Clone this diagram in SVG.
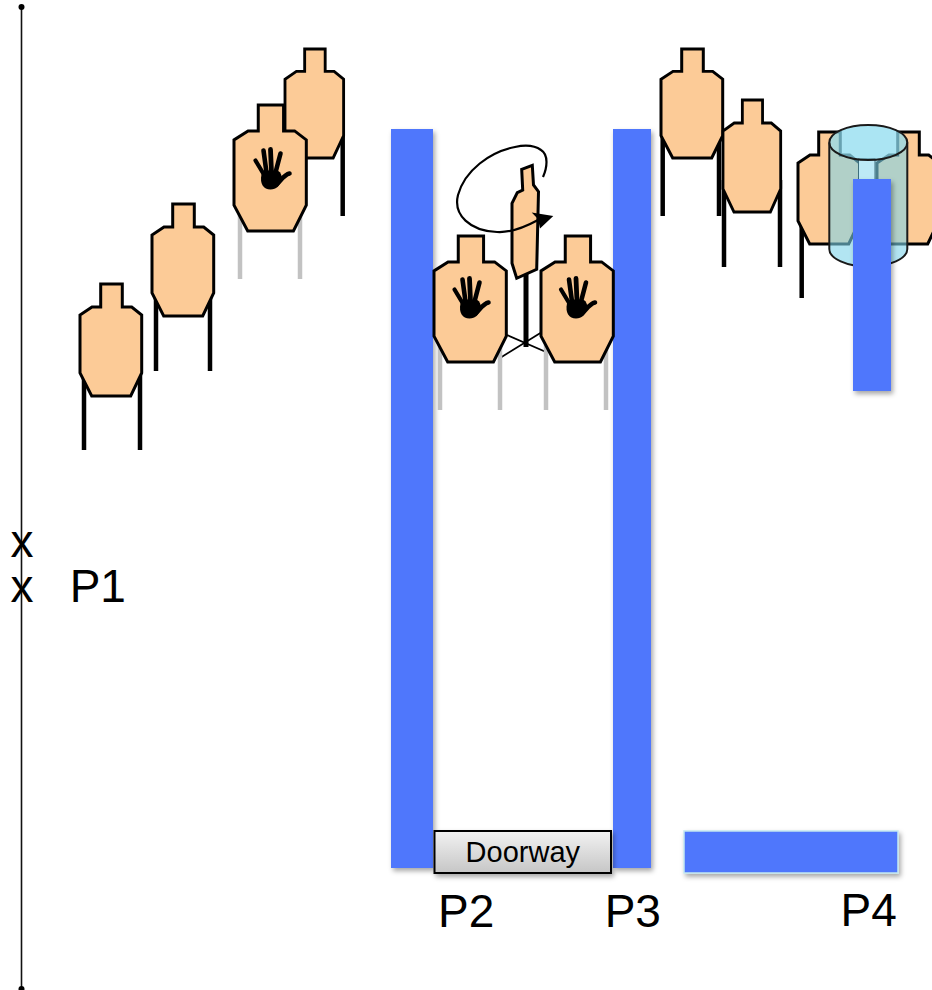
<svg xmlns="http://www.w3.org/2000/svg" xmlns:xlink="http://www.w3.org/1999/xlink" width="932" height="990" viewBox="0 0 932 990">
  <style>
    .body { fill: #fccb97; stroke: #000; stroke-width: 3; stroke-linejoin: miter; }
    .leg { stroke: #000; stroke-width: 4.5; fill: none; }
    .leg-grey { stroke: #c2c2c2; stroke-width: 4.5; fill: none; }
    .wall { fill: #5077fc; filter: url(#shadow); }
    .label { font-family: "Liberation Sans", Arial, sans-serif; font-size: 46px; fill: #000; }
    .thin { stroke: #000; stroke-width: 1.8; fill: none; }
  </style>
  <defs>
    <filter id="shadow" x="-20%" y="-20%" width="150%" height="150%">
      <feDropShadow dx="2" dy="3" stdDeviation="2.5" flood-color="#000" flood-opacity="0.35"/>
    </filter>
    <linearGradient id="doorGrad" x1="0" y1="0" x2="0" y2="1">
      <stop offset="0" stop-color="#f2f2f2"/>
      <stop offset="1" stop-color="#c6c6c6"/>
    </linearGradient>
    <!-- silhouette target, 62 x 112 -->
    <path id="target" d="M20.7,0 H42.3 V23 H51.7 L61.7,31 V89 L50.7,112 H11.7 L0,89 V31 L12,23 H20.7 Z"/>
    <!-- no-shoot hand, centred on the palm -->
    <g id="hand">
      <path d="M-10,-3 C-12,6 -8,12 -1,12 C5,12 8,8 10,3 C11,-2 9,-7 4,-7 L-5,-7 C-8,-7 -9,-5 -10,-3 Z" fill="#000"/>
      <g stroke="#000" stroke-linecap="round" fill="none">
        <line x1="-16" y1="-17" x2="-7" y2="-2" stroke-width="4.2"/>
        <line x1="-8" y1="-27" x2="-5" y2="-5" stroke-width="4.6"/>
        <line x1="-1" y1="-28" x2="0" y2="-5" stroke-width="4.8"/>
        <line x1="9" y1="-24" x2="4" y2="-5" stroke-width="4.6"/>
        <path d="M18,-4 C13,-3 10,2 5,7" stroke-width="4.6"/>
      </g>
    </g>
  </defs>

  <rect width="932" height="990" fill="#fff"/>

  <!-- shooter's fault line with the two start positions -->
  <g id="fault-line">
    <line x1="21.5" y1="7" x2="21.5" y2="989" stroke="#111" stroke-width="1.6"/>
    <circle cx="21.5" cy="7" r="3" fill="#000"/>
    <circle cx="21.5" cy="989" r="3" fill="#000"/>
    <text class="label" text-anchor="middle"><tspan x="22" y="556.7">x</tspan><tspan x="22" y="601.7">x</tspan></text>
  </g>

  <!-- left array -->
  <g id="t1">
    <line class="leg" x1="84" y1="360" x2="84" y2="450"/>
    <line class="leg" x1="140" y1="360" x2="140" y2="450"/>
    <use xlink:href="#target" class="body" transform="translate(80,284)"/>
  </g>
  <g id="t2">
    <line class="leg" x1="156" y1="280" x2="156" y2="371"/>
    <line class="leg" x1="210" y1="280" x2="210" y2="371"/>
    <use xlink:href="#target" class="body" transform="translate(152,204)"/>
  </g>
  <g id="t4">
    <line class="leg" x1="342.7" y1="130" x2="342.7" y2="216"/>
    <g transform="translate(285,49) scale(0.95,0.973)">
      <use xlink:href="#target" class="body" style="vector-effect:non-scaling-stroke"/>
    </g>
  </g>
  <g id="t3-noshoot">
    <line class="leg-grey" x1="240" y1="200" x2="240" y2="279"/>
    <line class="leg-grey" x1="300" y1="200" x2="300" y2="279"/>
    <path class="body" transform="translate(234,105) scale(1.172,1.125)" style="vector-effect:non-scaling-stroke" d="M20.7,0 H42.3 V23 H51.7 L61.7,31 V89 L50.7,112 H11.7 L0,89 V31 L12,23 H20.7 Z"/>
    <use xlink:href="#hand" transform="translate(271.5,177.5)"/>
  </g>

  <!-- walls -->
  <g id="wall-left"><rect class="wall" x="391" y="129" width="42" height="739"/></g>
  <g id="wall-mid"><rect class="wall" x="613" y="129" width="38" height="739"/></g>
  <g id="wall-bottom"><rect class="wall" x="684" y="831" width="214" height="42" stroke="#c4e8f0" stroke-width="1.5"/></g>

  <!-- swinger between two no-shoots -->
  <g id="swinger-base">
    <line class="thin" x1="507" y1="335" x2="546" y2="352"/>
    <line class="thin" x1="500" y1="358" x2="542" y2="332"/>
    <rect x="523.5" y="272" width="5" height="75" fill="#000"/>
  </g>
  <g id="ns-left">
    <line class="leg-grey" x1="440" y1="330" x2="440" y2="410"/>
    <line class="leg-grey" x1="500" y1="330" x2="500" y2="410"/>
    <path class="body" transform="translate(434,236) scale(1.172,1.125)" style="vector-effect:non-scaling-stroke" d="M20.7,0 H42.3 V23 H51.7 L61.7,31 V89 L50.7,112 H11.7 L0,89 V31 L12,23 H20.7 Z"/>
    <use xlink:href="#hand" transform="translate(470.5,306.5)"/>
  </g>
  <g id="ns-right">
    <line class="leg-grey" x1="546" y1="330" x2="546" y2="410"/>
    <line class="leg-grey" x1="606" y1="330" x2="606" y2="410"/>
    <path class="body" transform="translate(541,236) scale(1.172,1.125)" style="vector-effect:non-scaling-stroke" d="M20.7,0 H42.3 V23 H51.7 L61.7,31 V89 L50.7,112 H11.7 L0,89 V31 L12,23 H20.7 Z"/>
    <use xlink:href="#hand" transform="translate(577,306.5)"/>
  </g>
  <g id="swinger">
    <path class="body" d="M521.7,169.3 L532.3,165.3 L533.5,185 L538.5,191.7 L536.7,269.3 L516.7,278.3 L512,263.3 L512,203.3 L517.3,192.7 L522.7,190 Z"/>
  </g>
  <g id="connectors">
    <path d="M543,177 C547,168 549,155 541,150 C534,145 524,145 515,147 C490,152 465,170 458,195 C453,215 470,231 497,232 C512,233 527,226 538,220" fill="none" stroke="#000" stroke-width="2.2"/>
    <polygon points="553.3,216 531.7,212.5 538,219 540,228.5" fill="#000"/>
  </g>

  <!-- right array -->
  <g id="ta">
    <line class="leg" x1="662.7" y1="130" x2="662.7" y2="216"/>
    <line class="leg" x1="719" y1="130" x2="719" y2="216"/>
    <g transform="translate(661,49) scale(1,0.973)">
      <use xlink:href="#target" class="body" style="vector-effect:non-scaling-stroke"/>
    </g>
  </g>
  <g id="tb">
    <line class="leg" x1="724" y1="180" x2="724" y2="267"/>
    <line class="leg" x1="780" y1="180" x2="780" y2="267"/>
    <g transform="translate(723,100) scale(0.935,1)">
      <use xlink:href="#target" class="body" style="vector-effect:non-scaling-stroke"/>
    </g>
  </g>
  <g id="tc1">
    <line class="leg" x1="801.7" y1="215" x2="801.7" y2="298"/>
    <line class="leg" x1="856" y1="215" x2="856" y2="298"/>
    <use xlink:href="#target" class="body" transform="translate(798,132)"/>
  </g>
  <g id="tc2">
    <use xlink:href="#target" class="body" transform="translate(877,132)"/>
  </g>
  <g id="barrel">
    <path d="M829.3,142.5 A39,17.5 0 0 1 907.3,142.5 V249 A39,17.5 0 0 1 829.3,249 Z" fill="#7fd3ea" fill-opacity="0.6"/>
    <ellipse cx="868.3" cy="142.5" rx="39" ry="17.5" fill="#9fe4f5" fill-opacity="0.35"/>
    <rect x="858.5" y="159" width="16.5" height="22" fill="#bdeaf6" stroke="#3e6e7c" stroke-width="1"/>
    <path d="M829.3,142.5 V249 A39,17.5 0 0 0 907.3,249 V142.5" fill="none" stroke="#1a1a1a" stroke-width="2"/>
    <ellipse cx="868.3" cy="142.5" rx="39" ry="17.5" fill="none" stroke="#1a1a1a" stroke-width="2"/>
  </g>
  <g id="wall-right"><rect class="wall" x="853" y="179" width="38" height="212"/></g>

  <!-- doorway -->
  <g id="doorway">
    <rect x="434.5" y="831" width="176.5" height="42" fill="url(#doorGrad)" stroke="#000" stroke-width="2" filter="url(#shadow)"/>
    <text x="522.8" y="861.5" text-anchor="middle" font-family="Liberation Sans, Arial, sans-serif" font-size="29">Doorway</text>
  </g>

  <!-- shooting positions -->
  <g id="positions">
    <text class="label" x="69.7" y="601.7">P1</text>
    <text class="label" x="438" y="926.7">P2</text>
    <text class="label" x="604.7" y="926.7">P3</text>
    <text class="label" x="840.5" y="926">P4</text>
  </g>
</svg>
